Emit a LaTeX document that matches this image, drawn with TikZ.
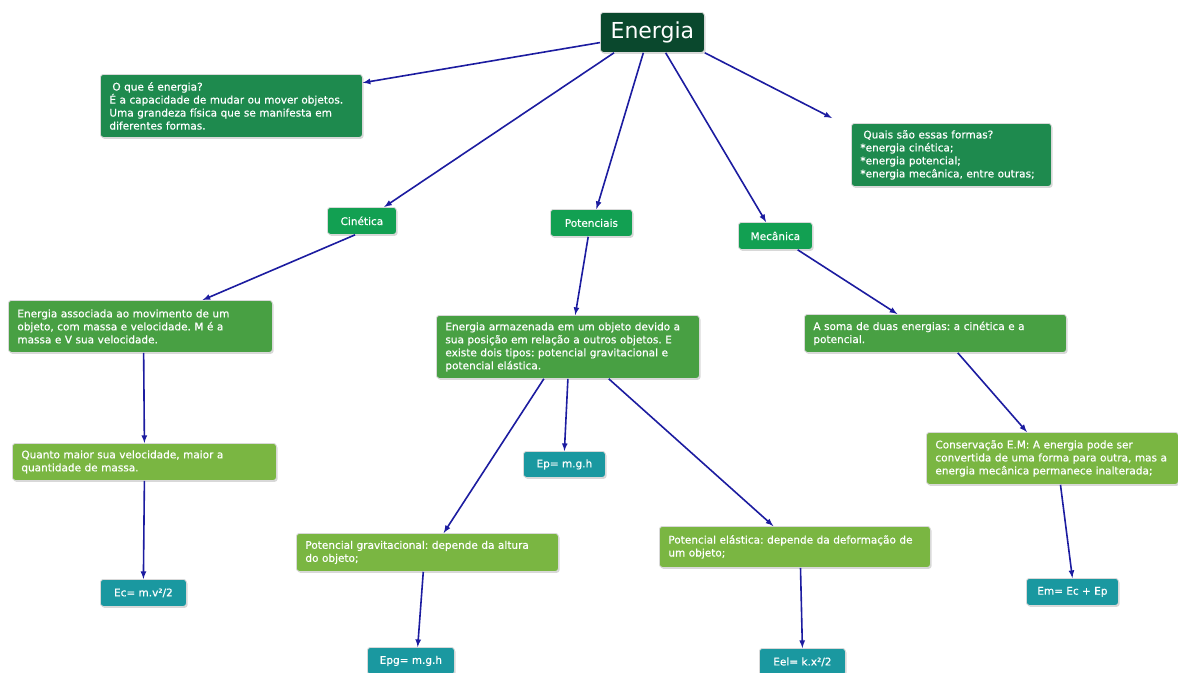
\documentclass[tikz,border=0pt]{standalone}
\usepackage{fontspec}
\setmainfont{DejaVu Sans}
\newfontfamily\boxfont{DejaVu Sans}[BoldFont=DejaVu Sans, BoldFeatures={FakeBold=0.5}]
\usetikzlibrary{arrows,shadows}
\definecolor{cDark}{RGB}{10,72,45}
\definecolor{cMid}{RGB}{30,138,78}
\definecolor{cBright}{RGB}{18,160,82}
\definecolor{cLvl}{RGB}{72,160,67}
\definecolor{cLight}{RGB}{122,182,66}
\definecolor{cTeal}{RGB}{26,152,160}
\definecolor{cArrow}{RGB}{28,28,160}
\frenchspacing

\begin{document}
\begin{tikzpicture}[x=1pt,y=-1pt,
  box/.style={anchor=north west, rounded corners=3pt, draw=black!15, line width=0.8pt,
    text=white, align=left, inner xsep=9pt, inner ysep=3pt,
    font=\boxfont\bfseries\fontsize{10.5}{13}\selectfont,
    drop shadow={shadow xshift=1.2pt, shadow yshift=-1.5pt, opacity=0.3}},
  tag/.style={box, align=center, inner xsep=3pt, font=\boxfont\bfseries\fontsize{10.5}{12}\selectfont},
  arr/.style={-latex, draw=cArrow, line width=1.6pt}]
  \useasboundingbox[fill=white] (0,0) rectangle (1178,672);
  % top
  \node[box, fill=cDark, align=center, minimum width=104pt, minimum height=40pt,
    font=\fontsize{22}{24}\selectfont] (energia) at (600,12) {Energia};
  \node[box, fill=cMid, text width=244pt, minimum height=63pt] (oque) at (100,74)
    {\hspace{3pt}O que é energia?\\É a capacidade de mudar ou mover objetos.\\Uma grandeza física que se manifesta em\\diferentes formas.};
  \node[box, fill=cMid, text width=182pt, minimum height=63pt] (quais) at (851,123)
    {\hspace{3pt}Quais são essas formas?\\{*}energia cinética;\\{*}energia potencial;\\{*}energia mecânica, entre outras;};
  % tipos
  \node[tag, fill=cBright, minimum width=69pt, minimum height=27pt] (cinetica) at (327,207) {Cinética};
  \node[tag, fill=cBright, minimum width=82pt, minimum height=27pt] (potenciais) at (550,209) {Potenciais};
  \node[tag, fill=cBright, minimum width=74pt, minimum height=27pt] (mecanica) at (738,222) {Mecânica};
  % definicoes
  \node[box, fill=cLvl, text width=246pt, minimum height=52pt] (assoc) at (8,300)
    {Energia associada ao movimento de um\\objeto, com massa e velocidade. M é a\\massa e V sua velocidade.};
  \node[box, fill=cLvl, text width=245pt, minimum height=63pt] (armaz) at (436,315)
    {Energia armazenada em um objeto devido a\\sua posição em relação a outros objetos. E\\existe dois tipos: potencial gravitacional e\\potencial elástica.};
  \node[box, fill=cLvl, text width=244pt, minimum height=38pt] (soma) at (804,314)
    {A soma de duas energias: a cinética e a\\potencial.};
  \node[box, fill=cLight, text width=246pt, minimum height=37pt] (quanto) at (12,443)
    {Quanto maior sua velocidade, maior a\\quantidade de massa.};
  \node[box, fill=cLight, text width=234pt, minimum height=52pt] (conserv) at (926,432)
    {Conservação E.M: A energia pode ser\\convertida de uma forma para outra, mas a\\energia mecânica permanece inalterada;};
  \node[box, fill=cLight, text width=244pt, minimum height=38pt] (grav) at (296,533)
    {Potencial gravitacional: depende da altura\\do objeto;};
  \node[box, fill=cLight, text width=253pt, minimum height=41pt] (elast) at (659,526)
    {Potencial elástica: depende da deformação de\\um objeto;};
  % formulas
  \node[tag, fill=cTeal, minimum width=82pt, minimum height=26pt] (ep) at (523,451) {Ep= m.g.h};
  \node[tag, fill=cTeal, minimum width=86pt, minimum height=27pt] (ec) at (100,579) {Ec= m.v²/2};
  \node[tag, fill=cTeal, minimum width=87pt, minimum height=27pt] (epg) at (367,647) {Epg= m.g.h};
  \node[tag, fill=cTeal, minimum width=86pt, minimum height=27pt] (eel) at (759,648) {Eel= k.x²/2};
  \node[tag, fill=cTeal, minimum width=92pt, minimum height=27pt] (em) at (1026,578) {Em= Ec + Ep};
  % ligacoes
  \draw[arr] (energia.191) -- (oque.10);
  \draw[arr] (energia.208) -- (cinetica.32);
  \draw[arr] (energia.246) -- (potenciais.70);
  \draw[arr] (energia.303) -- (mecanica.124);
  \draw[arr] (energia.south east) -- ([xshift=-19pt,yshift=5pt]quais.north west);
  \draw[arr] (cinetica.244) -- (assoc.23);
  \draw[arr] (potenciais.257) -- (armaz.77);
  \draw[arr] (mecanica.328) -- (soma.153);
  \draw[arr] (assoc.277) -- (quanto.north);
  \draw[arr] (quanto.south) -- (ec.north);
  \draw[arr] (armaz.233) -- (grav.50);
  \draw[arr] (armaz.south) -- (ep.north);
  \draw[arr] (armaz.322) -- (elast.136);
  \draw[arr] (soma.319) -- (conserv.134);
  \draw[arr] (conserv.287) -- (em.north);
  \draw[arr] (grav.258) -- (epg.64);
  \draw[arr] (elast.285) -- (eel.north);
\end{tikzpicture}
\end{document}
